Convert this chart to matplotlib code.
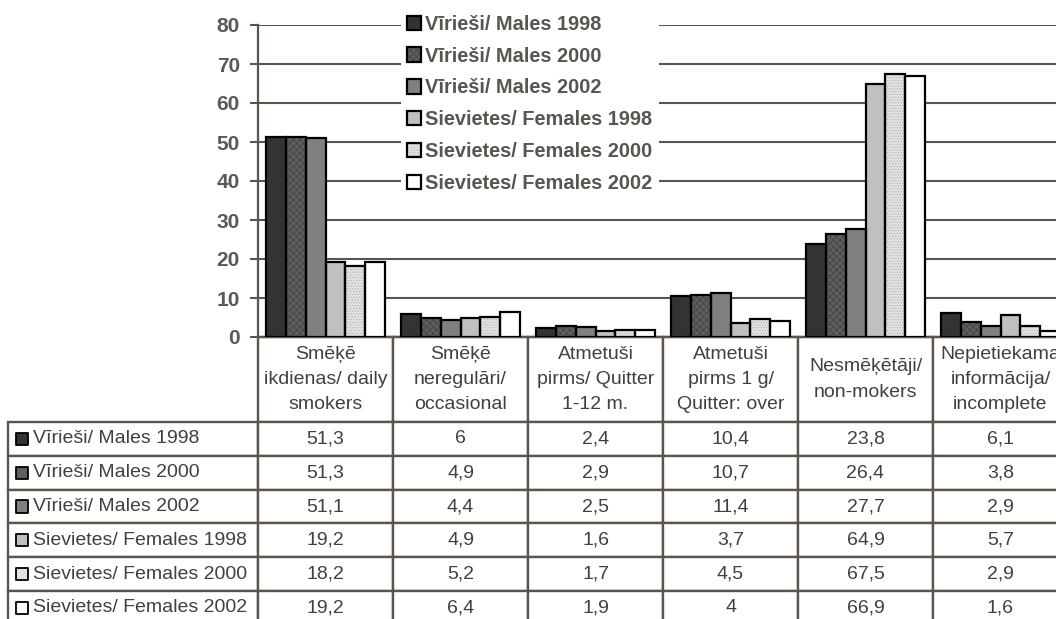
import matplotlib.pyplot as plt
import numpy as np
from matplotlib.legend_handler import HandlerTuple
from matplotlib.patches import Patch
from matplotlib.table import Table

plt.rcParams['font.family'] = ['Liberation Sans', 'DejaVu Sans']
plt.rcParams['hatch.linewidth'] = 0.5

# data
categories = ['Smēķē\nikdienas/ daily\nsmokers',
              'Smēķē\nneregulāri/\noccasional',
              'Atmetuši\npirms/ Quitter\n1-12 m.',
              'Atmetuši\npirms 1 g/\nQuitter: over',
              'Nesmēķētāji/\nnon-mokers',
              'Nepietiekama\ninformācija/\nincomplete']
series = ['Vīrieši/ Males 1998', 'Vīrieši/ Males 2000', 'Vīrieši/ Males 2002',
          'Sievietes/ Females 1998', 'Sievietes/ Females 2000', 'Sievietes/ Females 2002']
males_1998 = [51.3, 6, 2.4, 10.4, 23.8, 6.1]
males_2000 = [51.3, 4.9, 2.9, 10.7, 26.4, 3.8]
males_2002 = [51.1, 4.4, 2.5, 11.4, 27.7, 2.9]
females_1998 = [19.2, 4.9, 1.6, 3.7, 64.9, 5.7]
females_2000 = [18.2, 5.2, 1.7, 4.5, 67.5, 2.9]
females_2002 = [19.2, 6.4, 1.9, 4, 66.9, 1.6]
values = [males_1998, males_2000, males_2002, females_1998, females_2000, females_2002]

# styles
faces = ['#333333', '#5e5e5e', '#808080', '#c0c0c0', '#e2e2e2', '#ffffff']
hatches = [None, 'xxxxx', None, None, '......', None]
hatch_cols = ['#333333', '#404040', '#808080', '#c0c0c0', '#b0b0b0', '#ffffff']
line_col = '#5c554d'
text_col = '#404040'


def fmt(v):
    return f'{v:g}'.replace('.', ',')


fig = plt.figure(figsize=(10.56, 6.19), dpi=100)
# axes runs past the right edge, as in the original (last column is cut)
ax_w, ax_h = 810, 312
ax = fig.add_axes([258 / 1056, 1 - 337 / 619, ax_w / 1056, ax_h / 619])

x = np.arange(len(categories))
width = 0.147
handles = []
for j, vals in enumerate(values):
    pos = x + (j - 2.5) * width
    ax.bar(pos, vals, width, color=faces[j], edgecolor=hatch_cols[j],
           hatch=hatches[j], linewidth=0, zorder=3)
    ax.bar(pos, vals, width, fill=False, edgecolor='black', linewidth=1.6, zorder=4)
    handles.append((Patch(facecolor=faces[j], edgecolor=hatch_cols[j], hatch=hatches[j], lw=0),
                    Patch(fill=False, edgecolor='black', lw=1.6)))

ax.set_xlim(-0.5, 5.5)
ax.set_ylim(0, 80)
ax.set_yticks(range(0, 81, 10))
ax.set_xticks([])
ax.yaxis.grid(True, color=line_col, lw=1.5)
ax.set_axisbelow(True)
for s in ['top', 'right']:
    ax.spines[s].set_visible(False)
for s in ['left', 'bottom']:
    ax.spines[s].set_color(line_col)
    ax.spines[s].set_linewidth(1.6)
ax.tick_params(axis='y', labelsize=15, labelcolor='#595959', length=6,
               width=1.5, color=line_col, pad=7)
for lab in ax.get_yticklabels():
    lab.set_fontweight('bold')

leg = ax.legend(handles, series, handler_map={tuple: HandlerTuple(ndivide=1, pad=0)},
                loc='upper left', bbox_to_anchor=(0.176, 1.052), frameon=True,
                facecolor='white', edgecolor='none', framealpha=1, fancybox=False,
                prop={'size': 14.4, 'weight': 'bold'}, labelspacing=0.64,
                handlelength=0.72, handleheight=0.72, handletextpad=0.22,
                borderpad=0.3, borderaxespad=0)
for t in leg.get_texts():
    t.set_color('#595550')

# data table below the axis
hdr_h, row_h = 85, 33.8
first_w, col_w = 250, 135
tab_h = hdr_h + row_h * len(series)
tbl = Table(ax, bbox=[-first_w / ax_w, -tab_h / ax_h, (first_w + 6 * col_w) / ax_w, tab_h / ax_h])
corner = tbl.add_cell(0, 0, width=first_w, height=hdr_h, text='')
corner.visible_edges = ''
for c, cat in enumerate(categories):
    tbl.add_cell(0, c + 1, width=col_w, height=hdr_h, text=cat, loc='center')
for r, (name, vals) in enumerate(zip(series, values)):
    tbl.add_cell(r + 1, 0, width=first_w, height=row_h, text=name, loc='left')
    for c, v in enumerate(vals):
        tbl.add_cell(r + 1, c + 1, width=col_w, height=row_h, text=fmt(v), loc='center')
tbl.auto_set_font_size(False)
tbl.set_fontsize(14)
for cell in tbl.get_celld().values():
    cell.set_edgecolor(line_col)
    cell.set_linewidth(1.7)
    cell.get_text().set_color(text_col)
    cell.get_text().set_linespacing(1.65)
ax.add_table(tbl)

# legend keys in the row labels
mx = (22 - 258) / ax_w
my = [-(hdr_h + row_h * (i + 0.5)) / ax_h for i in range(len(series))]
ax.scatter([mx] * len(series), my, marker='s', s=75, c=faces, edgecolors='black',
           linewidths=1.3, transform=ax.transAxes, clip_on=False, zorder=6)

fig.savefig('out.png', dpi=100)
